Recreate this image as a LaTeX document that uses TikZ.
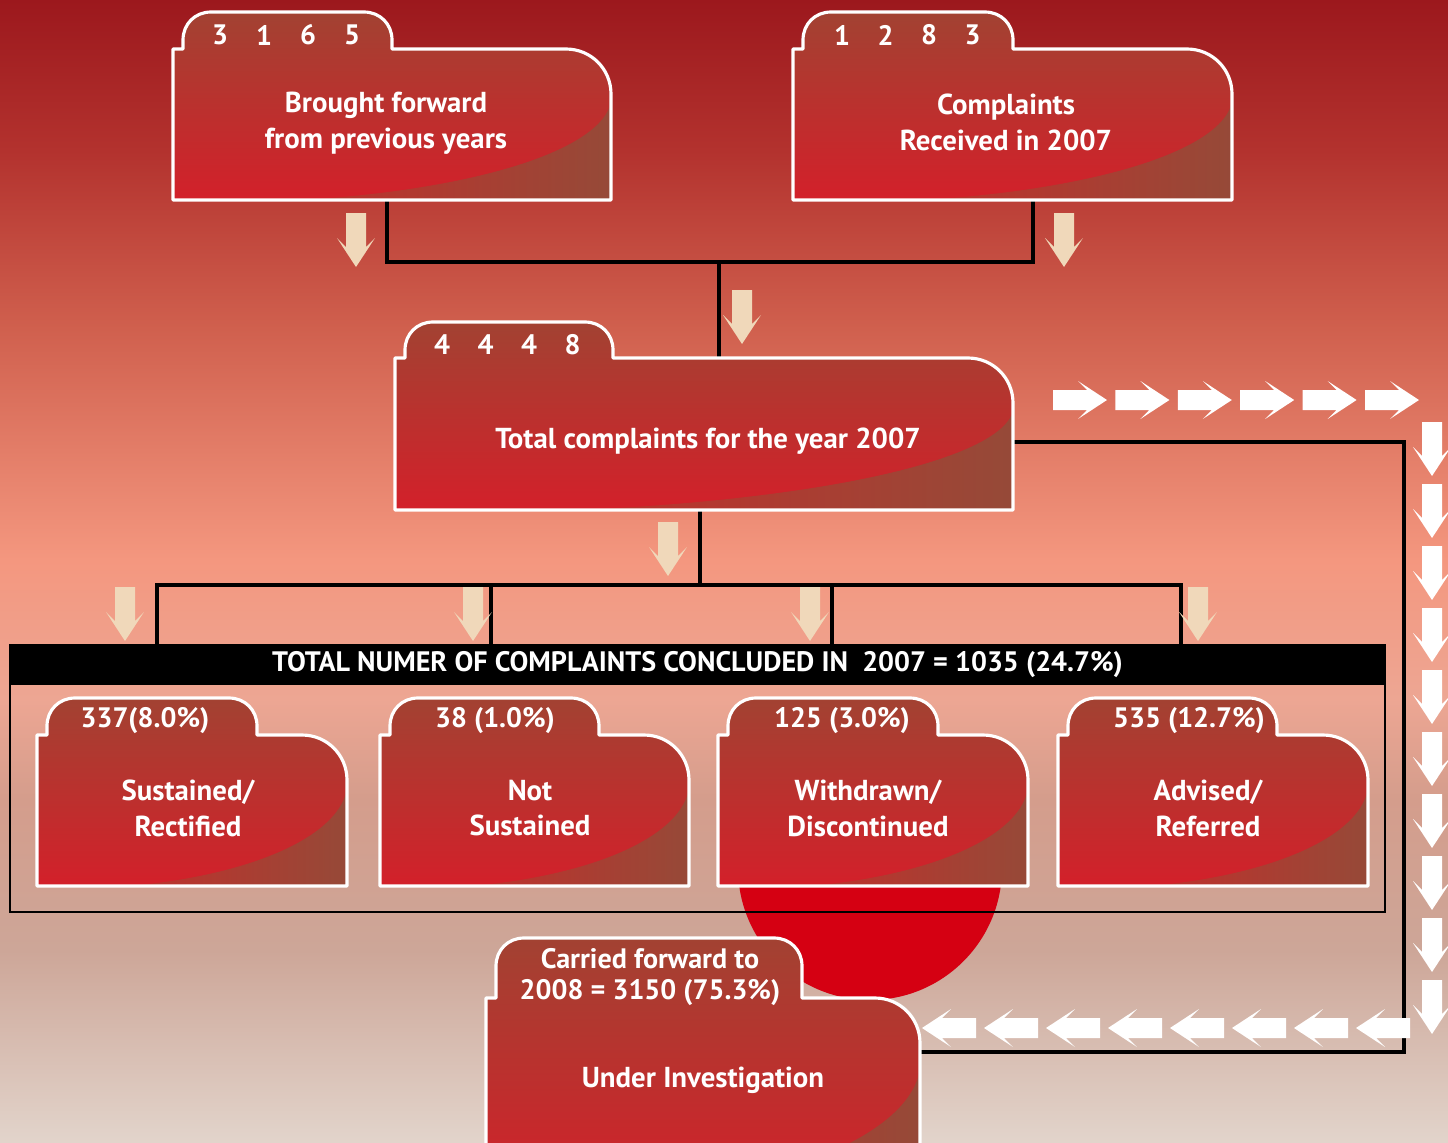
\documentclass[tikz,border=0pt]{standalone}
\usepackage{fontspec}
\setmainfont{PT Sans}
\usetikzlibrary{positioning}

\definecolor{skyA}{HTML}{9C181D}
\definecolor{skyB}{HTML}{B3322E}
\definecolor{skyC}{HTML}{D0604E}
\definecolor{skyD}{HTML}{F4977F}
\definecolor{skyE}{HTML}{EDA693}
\definecolor{skyF}{HTML}{D49D8C}
\definecolor{skyG}{HTML}{CDA698}
\definecolor{skyH}{HTML}{E2D4CB}
\definecolor{foldtop}{HTML}{A24232}
\definecolor{foldbot}{HTML}{D3202A}
\definecolor{flapleft}{HTML}{C0302C}
\definecolor{flapright}{HTML}{954A38}
\definecolor{sand}{HTML}{F0D8BA}
\definecolor{sunred}{HTML}{D50012}

\pgfdeclareverticalshading{sky}{100bp}{color(0bp)=(skyH); color(25bp)=(skyH); color(33.4bp)=(skyG); color(40bp)=(skyF); color(44.4bp)=(skyE); color(50.5bp)=(skyD); color(60.6bp)=(skyC); color(68.4bp)=(skyB); color(75bp)=(skyA); color(100bp)=(skyA)}

% folder outline: x0, tab top, body top, x1, bottom, tab right
\newcommand\folderpath[6]{%
	(#1,#5) -- (#1,#3) -- (#1+10,#3) -- (#1+10,#2+28)
	.. controls (#1+10,#2+12) and (#1+22,#2) .. (#1+38,#2)
	-- (#6-28,#2) .. controls (#6-12,#2) and (#6,#2+12) .. (#6,#2+28)
	-- (#6,#3) -- (#4-45,#3) .. controls (#4-20,#3) and (#4,#3+20) .. (#4,#3+45)
	-- (#4,#5) -- cycle}

% curled corner in the lower right
\newcommand\folderflap[6]{%
	({#1+0.3*(#4-#1)},#5) .. controls ({#1+0.72*(#4-#1)},{#5-0.08*(#5-#3)})
	and ({#4-0.02*(#4-#1)},{#5-0.35*(#5-#3)}) .. (#4,{#5-0.65*(#5-#3)})
	-- (#4+5,{#5-0.65*(#5-#3)}) -- (#4+5,#5+5) -- ({#1+0.3*(#4-#1)},#5+5) -- cycle}

\newcommand\drawfolder[6]{%
	\path[folder body] \folderpath{#1}{#2}{#3}{#4}{#5}{#6};
	\begin{scope}
		\clip \folderpath{#1}{#2}{#3}{#4}{#5}{#6};
		\path[folder flap] \folderflap{#1}{#2}{#3}{#4}{#5}{#6};
	\end{scope}
	\draw[folder edge] \folderpath{#1}{#2}{#3}{#4}{#5}{#6};
}

\begin{document}
\begin{tikzpicture}[x = 0.01cm, y = -0.01cm,
	folder body/.style = {top color = foldtop, bottom color = foldbot},
	folder flap/.style = {left color = flapleft, right color = flapright},
	folder edge/.style = {draw = white, line width = 0.9pt, line join = round},
	link/.style = {draw = black, line width = 1.15pt},
	tabtext/.style = {text = white, inner sep = 0pt, font = \fontsize{8}{9}\selectfont\bfseries},
	foldtext/.style = {text = white, align = center, inner sep = 0pt, font = \fontsize{8.2}{10.2}\selectfont\bfseries},
	pics/blockarrow/.style = {code = {\fill (0,-10) -- (34,-10) -- (25,-19) -- (54,0) -- (25,19) -- (34,10) -- (0,10) -- cycle;}}]

	\useasboundingbox (0,0) rectangle (1448,1142);
	\clip (0,0) rectangle (1448,1142);

	% Sky behind everything

	\shade[shading = sky] (0,0) rectangle (1448,1142);

	% Red sun

	\fill[sunred] (870,868) circle (132);

	% Connectors

	\coordinate (fwd-out) at (387,200);
	\coordinate (rcv-out) at (1033,200);
	\coordinate (merge) at (719,262);
	\coordinate (tot-in) at (719,358);
	\coordinate (tot-out) at (700,510);
	\coordinate (split) at (700,585);
	\coordinate (tot-side) at (1013,442);
	\coordinate (loop) at (1404,1052);
	\coordinate (inv-side) at (920,1052);

	\draw[link] (fwd-out) |- (merge) -| (rcv-out);
	\draw[link] (merge) -- (tot-in);
	\draw[link] (tot-out) -- (split);
	\foreach \x [count = \i] in {157, 491, 832, 1181} {
		\coordinate (drop\i) at (\x,645);
		\draw[link] (drop\i) |- (split);
	}
	\draw[link] (tot-side) -| (loop) -- (inv-side);

	% Concluded complaints frame

	\draw[line width = 0.7pt] (10,645) rectangle (1385,912);
	\node[fill = black, text = white, minimum width = 13.75cm, minimum height = 0.4cm, inner sep = 0pt,
		font = \fontsize{8}{9}\selectfont\bfseries] (hdr) at (697.5,665)
		{TOTAL NUMER OF COMPLAINTS CONCLUDED IN\ \ 2007 = 1035 (24.7\%)};

	% Top folders

	\drawfolder{173}{12}{49}{611}{200}{392}
	\foreach \d [count = \i] in {3, 1, 6, 5}
		\node[tabtext] (fwd-n\i) at ({176+44*\i},35) {\d};
	\node[foldtext] (fwd) at (386,123) {Brought forward\\from previous years};

	\drawfolder{793}{12}{49}{1232}{200}{1013}
	\foreach \d [count = \i] in {1, 2, 8, 3}
		\node[tabtext] (rcv-n\i) at ({798.5+43.5*\i},35) {\d};
	\node[foldtext] (rcv) at (1006,122) {Complaints\\Received in 2007};

	% Total folder

	\drawfolder{395}{322}{358}{1013}{510}{613}
	\foreach \d [count = \i] in {4, 4, 4, 8}
		\node[tabtext] (tot-n\i) at ({398.5+43.5*\i},345) {\d};
	\node[foldtext] (tot) at (708,441) {Total complaints for the year 2007};

	% Outcome folders

	\drawfolder{37}{698}{735}{347}{886}{257}
	\node[tabtext] (sus-n) at (145,721) {337(8.0\%)};
	\node[foldtext] (sus) at (188,808) {Sustained/\\Rectified};

	\drawfolder{380}{698}{735}{689}{886}{599}
	\node[tabtext] (not-n) at (495,721) {38 (1.0\%)};
	\node[foldtext] (not) at (530,808) {Not\\Sustained};

	\drawfolder{718}{698}{735}{1028}{886}{938}
	\node[tabtext] (wdr-n) at (842,721) {125 (3.0\%)};
	\node[foldtext] (wdr) at (868,808) {Withdrawn/\\Discontinued};

	\drawfolder{1058}{698}{735}{1368}{886}{1277}
	\node[tabtext] (adv-n) at (1189,721) {535 (12.7\%)};
	\node[foldtext] (adv) at (1208,808) {Advised/\\Referred};

	% Carried forward folder

	\drawfolder{486}{938}{998}{920}{1200}{802}
	\node[foldtext, font = \fontsize{8}{8.6}\selectfont\bfseries] (inv-n) at (650,977) {Carried forward to\\2008 = 3150 (75.3\%)};
	\node[foldtext] (inv) at (703,1080) {Under Investigation};

	% Sand arrows

	\foreach \x/\y in {356/213, 1064/213, 742/290, 668/522, 125/587, 473/587, 810/587, 1198/587}
		\pic[sand, rotate = -90] at (\x,\y) {blockarrow};

	% White arrows round the loop

	\foreach \i in {0,...,5}
		\pic[white] at ({1053+62.4*\i},400) {blockarrow};
	\foreach \i in {0,...,9}
		\pic[white, rotate = -90] at (1432,{422+62*\i}) {blockarrow};
	\foreach \i in {0,...,7}
		\pic[white, rotate = 180] at ({976+62*\i},1028) {blockarrow};

\end{tikzpicture}
\end{document}
